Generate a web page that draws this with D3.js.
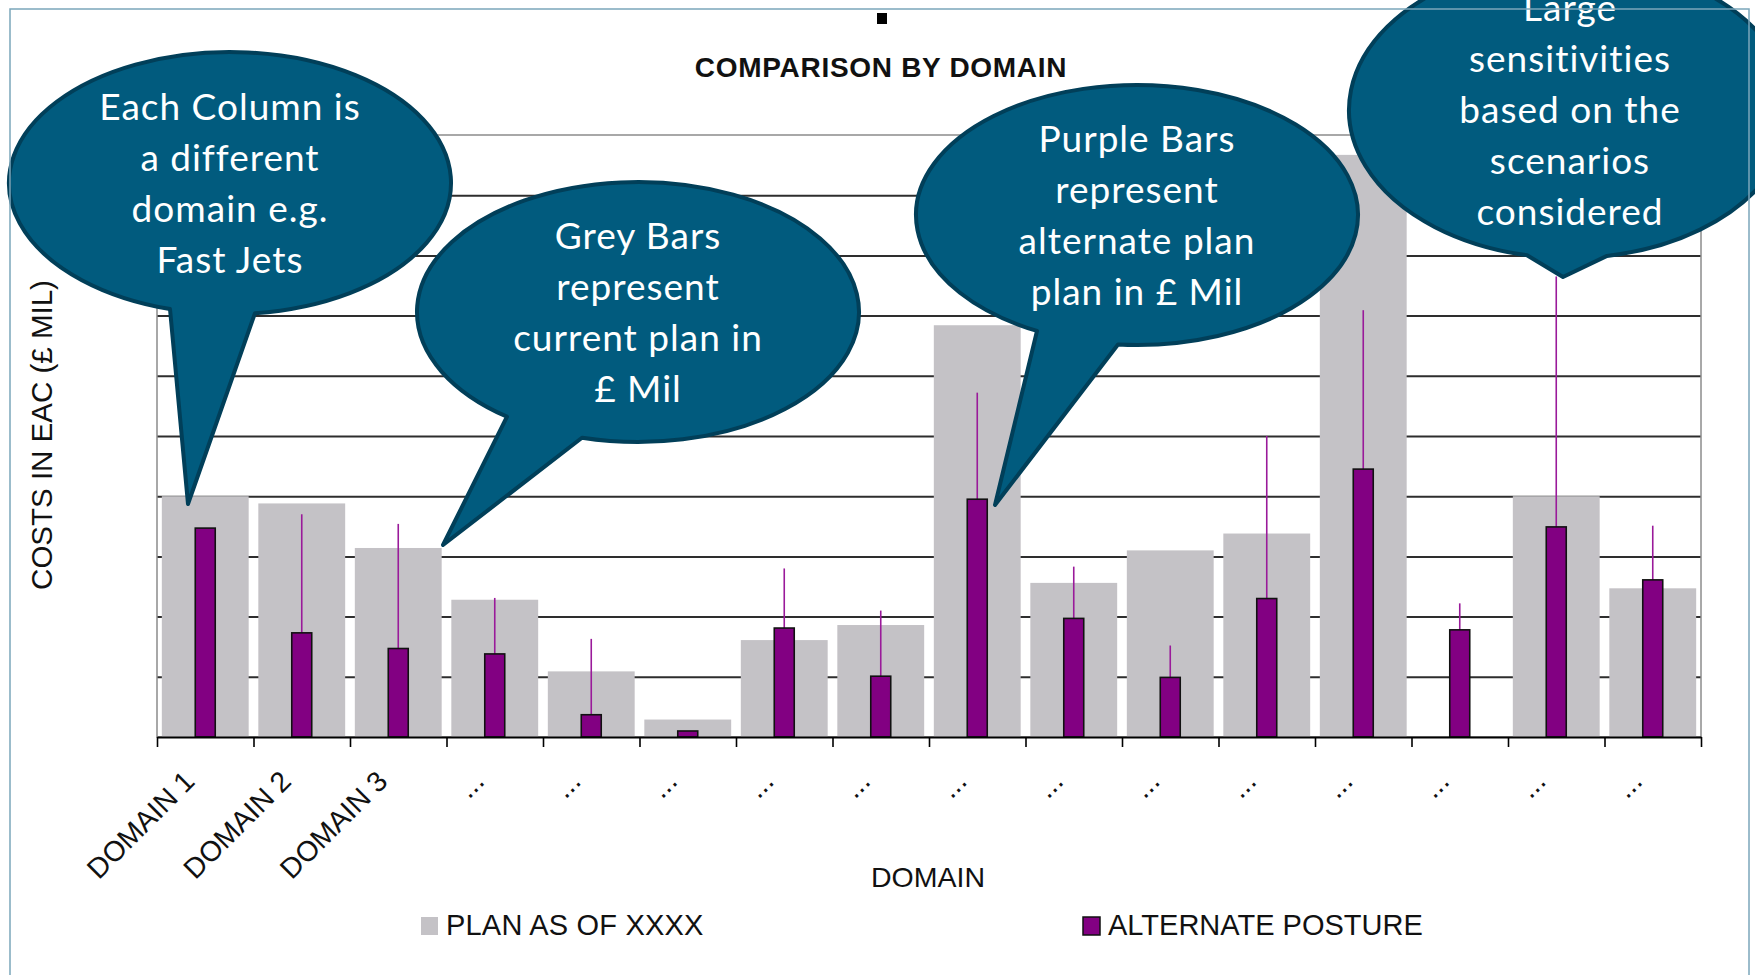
<!DOCTYPE html>
<html><head><meta charset="utf-8">
<script src="https://cdn.jsdelivr.net/npm/d3@7"></script>
<style>html,body{margin:0;padding:0;background:#fff;} svg{display:block}</style>
</head><body>
<script>
// ---------- DATA ----------
const categories = ["DOMAIN 1","DOMAIN 2","DOMAIN 3","...","...","...","...","...","...","...","...","...","...","...","...","..."];
const planValues = [4.0, 3.88, 3.14, 2.28, 1.09, 0.29, 1.61, 1.86, 6.84, 2.56, 3.10, 3.38, 9.67, 0, 4.0, 2.47];
const altValues  = [3.47, 1.73, 1.47, 1.38, 0.37, 0.10, 1.81, 1.01, 3.95, 1.97, 0.99, 2.30, 4.45, 1.78, 3.49, 2.61];
const altHigh    = [null, 3.70, 3.54, 2.31, 1.63, null, 2.80, 2.10, 5.72, 2.83, 1.52, 5.00, 7.09, 2.22, 7.65, 3.51];
const gridValues = [1,2,3,4,5,6,7,8,9];
const seriesNames = ["PLAN AS OF XXXX", "ALTERNATE POSTURE"];
const chartTitle = "COMPARISON BY DOMAIN";
const xTitle = "DOMAIN";
const yTitle = "COSTS IN EAC (\u00A3 MIL)";
const calloutTexts = [
  ["Each Column is","a different","domain e.g.","Fast Jets"],
  ["Grey Bars","represent","current plan in","\u00A3 Mil"],
  ["Purple Bars","represent","alternate plan","plan in \u00A3 Mil"],
  ["Large","sensitivities","based on the","scenarios","considered"]
];

// ---------- LAYOUT ----------
const W = 1755, H = 975;
const L = 157, R = 1701, T = 135, B = 737;
const calloutGeom = [
  {cx:230, cy:183, rx:221, ry:131, bl:170, br:255, tip:[188,504]},
  {cx:638, cy:312, rx:221, ry:130, bl:507, br:582, tip:[443,545]},
  {cx:1137, cy:215, rx:221, ry:130, bl:1037, br:1118, tip:[995,505]},
  {cx:1570, cy:110, rx:221, ry:148, bl:1527, br:1607, tip:[1563,277]}
];
const font = "Liberation Sans, Arial, sans-serif";

const svg = d3.select("body").append("svg").attr("width", W).attr("height", H);
svg.append("rect").attr("width", W).attr("height", H).attr("fill", "#fff");

const idx = d3.range(categories.length);
const xb = d3.scaleBand().domain(idx).range([L, R]).paddingInner(0.1).paddingOuter(0.05);
const xEdge = d3.scaleLinear().domain([0, categories.length]).range([L, R]);
const y = d3.scaleLinear().domain([0, 10]).range([B, T]);
const cx = i => xb(i) + xb.bandwidth() / 2;

// gridlines
const grid = svg.append("g").attr("transform", `translate(${L},0)`)
  .call(d3.axisLeft(y).tickValues(gridValues).tickSize(-(R - L)).tickFormat(""));
grid.select(".domain").remove();
grid.selectAll(".tick line").attr("stroke", "#2e2e2e").attr("stroke-width", 2);

// plot border
svg.append("rect").attr("x", L).attr("y", T).attr("width", R - L).attr("height", B - T)
  .attr("fill", "none").attr("stroke", "#8c8c8c").attr("stroke-width", 1.5);

// grey bars
svg.append("g").selectAll("rect").data(idx).join("rect")
  .attr("x", i => xb(i)).attr("width", xb.bandwidth())
  .attr("y", i => y(planValues[i])).attr("height", i => y(0) - y(planValues[i]))
  .attr("fill", "#c4c2c6");

// error lines
svg.append("g").selectAll("line").data(idx.filter(i => altHigh[i] != null)).join("line")
  .attr("x1", i => cx(i)).attr("x2", i => cx(i))
  .attr("y1", i => y(altValues[i])).attr("y2", i => y(altHigh[i]))
  .attr("stroke", "#9a1a9a").attr("stroke-width", 1.6);

// purple bars
const pw = xb.bandwidth() * 0.23;
svg.append("g").selectAll("rect").data(idx).join("rect")
  .attr("x", i => cx(i) - pw / 2).attr("width", pw)
  .attr("y", i => y(altValues[i])).attr("height", i => y(0) - y(altValues[i]))
  .attr("fill", "#820082").attr("stroke", "#111").attr("stroke-width", 1.6);

// x axis
const xa = svg.append("g").attr("transform", `translate(0,${B})`)
  .call(d3.axisBottom(xEdge).tickValues(d3.range(categories.length + 1)).tickSize(10).tickSizeOuter(0).tickFormat(""));
xa.select(".domain").attr("stroke", "#000").attr("stroke-width", 2);
xa.selectAll(".tick line").attr("stroke", "#000").attr("stroke-width", 1.6);

// x labels
svg.append("g").selectAll("text").data(idx).join("text")
  .attr("transform", i => `translate(${cx(i) - 9},${B + 46}) rotate(-45)`)
  .attr("text-anchor", "end")
  .attr("font-family", font).attr("font-size", 28.5)
  .attr("fill", "#111").text(i => categories[i]);

// titles
svg.append("text").attr("x", 881).attr("y", 77).attr("text-anchor", "middle")
  .attr("font-family", font).attr("font-weight", "bold").attr("font-size", 28)
  .attr("letter-spacing", 0.7).attr("fill", "#111").text(chartTitle);
svg.append("rect").attr("x", 877).attr("y", 13).attr("width", 10).attr("height", 11).attr("fill", "#000");
svg.append("text").attr("x", 928).attr("y", 887).attr("text-anchor", "middle")
  .attr("font-family", font).attr("font-size", 28.5).attr("fill", "#111").text(xTitle);
svg.append("text").attr("transform", "translate(52,435) rotate(-90)").attr("text-anchor", "middle")
  .attr("font-family", font).attr("font-size", 29.5).attr("fill", "#111").text(yTitle);

// legend
const legend = [
  {x:421, fill:"#c4c2c6", stroke:"none", name:seriesNames[0], ls:0.2},
  {x:1083, fill:"#820082", stroke:"#111", name:seriesNames[1], ls:0}
];
const lg = svg.append("g").selectAll("g").data(legend).join("g");
lg.append("rect").attr("x", d => d.x).attr("y", 917).attr("width", 17).attr("height", 18)
  .attr("fill", d => d.fill).attr("stroke", d => d.stroke).attr("stroke-width", 1.5);
lg.append("text").attr("x", d => d.x + 25).attr("y", 935)
  .attr("font-family", font).attr("font-size", 29).attr("letter-spacing", d => d.ls)
  .attr("fill", "#111").text(d => d.name);

// callouts
const cg = svg.append("g");
calloutGeom.forEach((g, k) => {
  const ey = x => g.cy + g.ry * Math.sqrt(Math.max(0, 1 - ((x - g.cx) / g.rx) ** 2));
  const path = `M${g.bl},${ey(g.bl)} A${g.rx},${g.ry} 0 1 1 ${g.br},${ey(g.br)} L${g.tip[0]},${g.tip[1]} Z`;
  cg.append("path").attr("d", path).attr("fill", "#015b7e").attr("stroke", "#013f59")
    .attr("stroke-width", 4).attr("stroke-linejoin", "round");
  const lines = calloutTexts[k];
  const lh = 51;
  const y0 = g.cy - (lines.length - 1) / 2 * lh + 13;
  cg.append("text").attr("text-anchor", "middle")
    .attr("font-family", "Lato, 'Open Sans', sans-serif").attr("font-size", 37)
    .attr("letter-spacing", 1).attr("fill", "#fff")
    .selectAll("tspan").data(lines).join("tspan")
    .attr("x", g.cx).attr("y", (d, j) => y0 + j * lh).text(d => d);
});

// outer frame
svg.append("rect").attr("x", 10).attr("y", 9).attr("width", 1739).attr("height", 1000)
  .attr("fill", "none").attr("stroke", "#7ba6bb").attr("stroke-width", 1.5);
</script>
</body></html>
